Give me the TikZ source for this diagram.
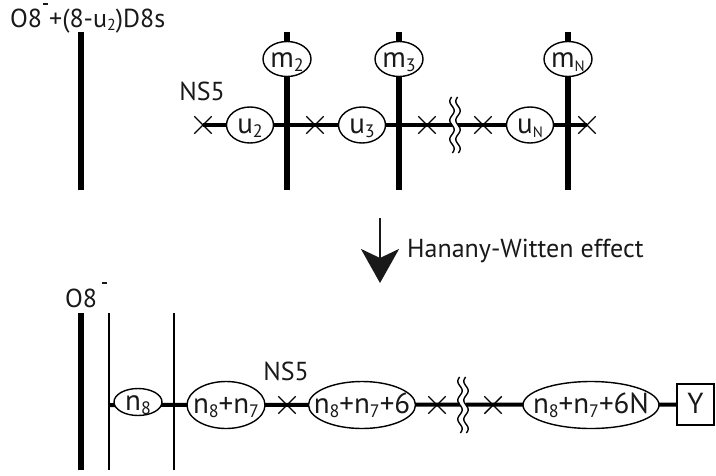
\documentclass[tikz,border=0pt]{standalone}
\usepackage{fontspec}
\setmainfont{PT Sans}
\usetikzlibrary{shapes.misc,shapes.geometric,arrows.meta,backgrounds}
\newcommand{\lo}[1]{\raisebox{-0.3ex}{\fontsize{16}{16}\selectfont #1}}
\newcommand{\olo}[1]{\raisebox{-0.3ex}{\fontsize{18}{18}\selectfont #1}}
\newcommand{\loN}{\raisebox{-0.3ex}{\fontsize{15}{15}\selectfont N}}
\newcommand{\barsup}[1]{\rule[#1]{5pt}{1.6pt}}
\newcommand{\ov}[1]{\raisebox{-8.5pt}[0pt][0pt]{\makebox[0pt]{#1}}}
\begin{document}
\begin{tikzpicture}[x=1pt,y=-1pt,
  every node/.style={font=\fontsize{26}{30}\selectfont, inner sep=0pt, text=black!90},
  oval/.style={ellipse, draw, line width=1.4pt, fill=white, inner sep=0pt, font=\fontsize{29}{32}\selectfont},
  xmark/.style={cross out, draw, line width=1.4pt, minimum size=16pt},
  brane/.style={line width=6pt},
  thinbrane/.style={line width=2pt},
  nsline/.style={line width=4pt},
  wavy/.style={line width=1.4pt},
]
\useasboundingbox (0,0) rectangle (716,475);

% ---------- top ----------
\node[anchor=base west] (lab1) at (10,27) {O8\hspace{1pt}\barsup{22pt}\hspace{1pt}+(8-u\lo{2})D8s};
\node (ns1) at (202,91) {NS5};
\coordinate (o1t) at (81,32); \coordinate (o1b) at (81,190);
\coordinate (d2t) at (287,32); \coordinate (d2b) at (287,190);
\coordinate (d3t) at (399,32); \coordinate (d3b) at (399,190);
\coordinate (dNt) at (568,32); \coordinate (dNb) at (568,190);
\coordinate (w1) at (455,125);

\node[xmark] (c1) at (203,125) {};
\node[oval, minimum width=47pt, minimum height=36pt] (u2) at (250,125) {\ov{u\olo{2}}};
\node[oval, minimum width=48pt, minimum height=35pt] (m2) at (287,59) {\ov{m\olo{2}}};
\node[xmark] (c2) at (315,125) {};
\node[oval, minimum width=47pt, minimum height=36pt] (u3) at (362,125) {\ov{u\olo{3}}};
\node[oval, minimum width=48pt, minimum height=35pt] (m3) at (399,59) {\ov{m\olo{3}}};
\node[xmark] (c3) at (427,125) {};
\node[xmark] (c4) at (483,125) {};
\node[oval, minimum width=47pt, minimum height=36pt] (uN) at (530,125) {\ov{u\loN}};
\node[oval, minimum width=48pt, minimum height=35pt] (mN) at (568,59) {\ov{m\loN}};
\node[xmark] (c5) at (587,125) {};

% ---------- arrow ----------
\coordinate (a1) at (380,218); \coordinate (a2) at (380,283);
\draw[line width=2.5pt, black!90, -{Stealth[length=34pt, width=38pt, inset=9pt]}] (a1) -- (a2);
\node[anchor=west] (hw) at (407,251) {Hanany-Witten effect};

% ---------- bottom ----------
\node[anchor=base west] (lab2) at (65,307) {O8\hspace{5pt}\barsup{23pt}};
\coordinate (o2t) at (81,313); \coordinate (o2b) at (81,470);
\coordinate (t1t) at (109,313); \coordinate (t1b) at (109,470);
\coordinate (t2t) at (174,313); \coordinate (t2b) at (174,470);
\coordinate (h0) at (109,405);
\coordinate (w2) at (463,405);
\node (ns2) at (286,371) {NS5};
\node[oval, minimum width=48pt, minimum height=27pt] (n8) at (138,402) {\ov{n\olo{8}}};
\node[oval, minimum width=78pt, minimum height=47pt] (n87) at (226,405) {\ov{n\olo{8}+n\olo{7}}};
\node[xmark] (c6) at (287,405) {};
\node[oval, minimum width=107pt, minimum height=47pt] (n876) at (362,405) {\ov{n\olo{8}+n\olo{7}+6}};
\node[xmark] (c7) at (437,405) {};
\node[xmark] (c8) at (493,405) {};
\node[oval, minimum width=136pt, minimum height=47pt] (n876N) at (591,405) {\ov{n\olo{8}+n\olo{7}+6N}};
\node[draw, line width=1.4pt, fill=white, minimum width=37pt, minimum height=41pt, font=\fontsize{29}{32}\selectfont] (Y) at (695.5,404.5) {\ov{Y}};

\begin{scope}[on background layer]
  \draw[brane] (o1t) -- (o1b);
  \draw[brane] (d2t) -- (d2b);
  \draw[brane] (d3t) -- (d3b);
  \draw[brane] (dNt) -- (dNb);
  \draw[nsline] (c1.center) -- (c5.center);
  \draw[brane] (o2t) -- (o2b);
  \draw[thinbrane] (t1t) -- (t1b);
  \draw[thinbrane] (t2t) -- (t2b);
  \draw[nsline] (h0) -- (Y.west);
\end{scope}

% wavy breaks
\foreach \w in {w1,w2}{
  \begin{scope}[shift={(\w)}]
    \fill[white] (-3,-28) rectangle (3,28);
    \draw[wavy] plot[domain=-28:28, samples=60] ({-3+2.2*sin(\x*360/19)}, \x);
    \draw[wavy] plot[domain=-28:28, samples=60] ({3+2.2*sin(\x*360/19)}, \x);
  \end{scope}
}
\end{tikzpicture}
\end{document}
